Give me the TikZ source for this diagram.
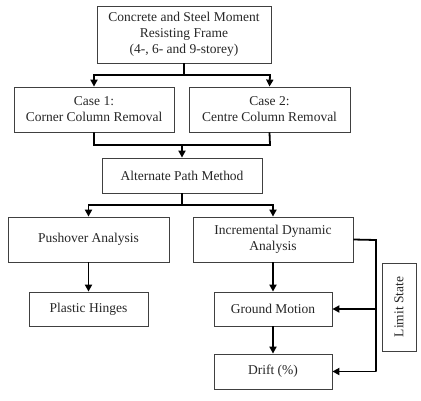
\documentclass[tikz,border=0pt]{standalone}
\usepackage{fontspec}
\setmainfont{Liberation Serif}
\usetikzlibrary{arrows.meta,calc}
\begin{document}
\begin{tikzpicture}[x=1pt,y=-1pt,
  box/.style={draw=black!75,line width=0.8pt,rectangle,inner sep=0pt,align=center,
    font=\fontsize{13.5}{16}\selectfont,text=black!85},
  conn/.style={line width=1.8pt,black},
  arr/.style={conn,-{Triangle[length=7pt,width=7pt]}}]
\useasboundingbox (0,0) rectangle (421,400);
\node[box,minimum width=174pt,minimum height=57pt] (top) at (184,34.5) {Concrete and Steel Moment\\Resisting Frame\\(4-, 6- and 9-storey)};
\node[box,minimum width=160pt,minimum height=45pt] (c1) at (94,109.5) {Case 1:\\Corner Column Removal};
\node[box,minimum width=161pt,minimum height=45pt] (c2) at (269.5,109.5) {Case 2:\\Centre Column Removal};
\node[box,minimum width=160pt,minimum height=35pt] (apm) at (182,175.5) {Alternate Path Method};
\node[box,minimum width=161pt,minimum height=45pt] (push) at (88.5,239.5) {Pushover Analysis};
\node[box,minimum width=160pt,minimum height=45pt] (ida) at (273,239.5) {Incremental Dynamic\\Analysis};
\node[box,minimum width=119pt,minimum height=34pt] (ph) at (88.5,309) {Plastic Hinges};
\node[box,minimum width=118pt,minimum height=34pt] (gm) at (273,309) {Ground Motion};
\node[box,minimum width=118pt,minimum height=35pt] (drift) at (273,371.5) {Drift (\%)};
\node[box,minimum width=34pt,minimum height=88pt] (ls) at (399,307) {\rotatebox{90}{Limit State}};
% top split
\coordinate (t1) at (184,75);
\coordinate (t1l) at (94,75);
\coordinate (t1r) at (270,75);
\draw[conn] (top.south) -- (t1);
\draw[arr] (t1) -- (t1l) -- (c1.north);
\draw[arr] (t1) -- (t1r) -- (c2.north);
% merge
\coordinate (m1) at (182,145);
\draw[conn] (c1.south) -- (94,145) coordinate (m1l) -- (270,145) coordinate (m1r) -- (c2.south);
\draw[arr] (m1) -- (apm.north);
% second split
\coordinate (s2) at (182,205);
\draw[conn] (apm.south) -- (s2);
\draw[arr] (s2) -- (88.5,205) coordinate (s2l) -- (push.north);
\draw[arr] (s2) -- (273,205) coordinate (s2r) -- (ida.north);
% downward
\draw[arr] (push.south) -- (ph.north);
\draw[arr] (ida.south) -- (gm.north);
\draw[arr] (gm.south) -- (drift.north);
% right feedback
\coordinate (r1) at (376,240);
\coordinate (r2) at (376,371.5);
\coordinate (r3) at (376,309);
\draw[conn] (ida.east) -- (r1) -- (r2);
\draw[arr] (r3) -- (gm.east);
\draw[arr] (r2) -- (drift.east);
\end{tikzpicture}
\end{document}
